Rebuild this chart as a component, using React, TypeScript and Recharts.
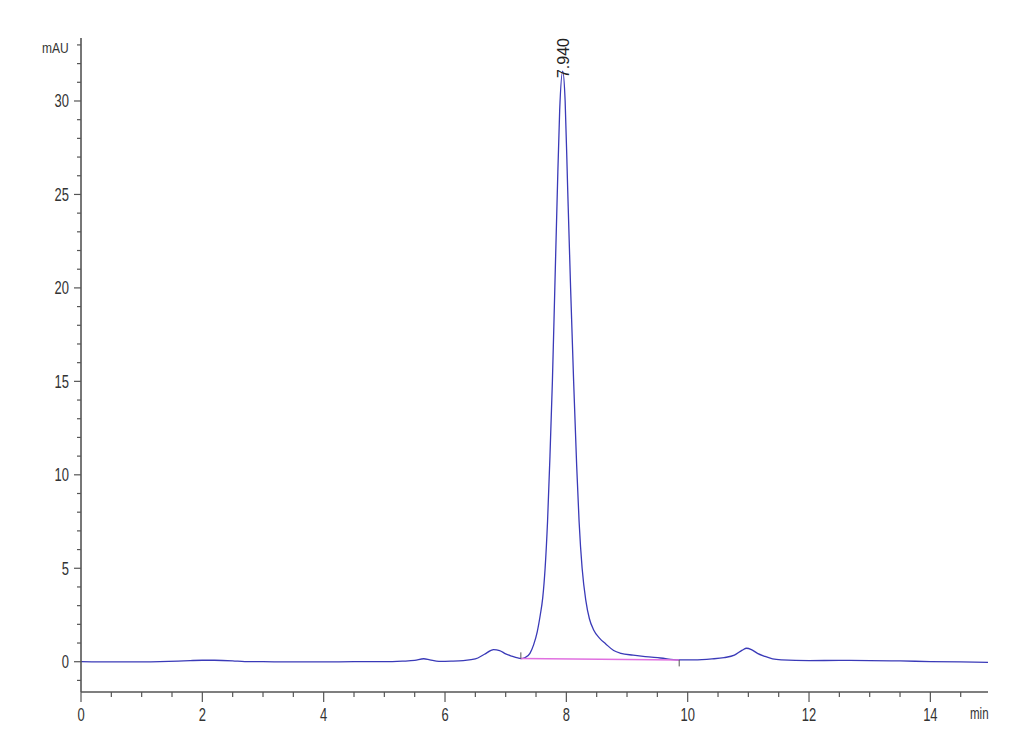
import React from 'react'
import { ComposedChart, Line, XAxis, YAxis, ReferenceLine, ReferenceDot } from 'recharts'

// retention time (min) and absorbance (mAU)
const times = [
  0, 0.5, 1.0, 1.3, 1.6, 1.8, 2.0, 2.2, 2.5, 2.7, 3.0, 3.5, 4.0, 4.5, 5.0, 5.3, 5.5, 5.65, 5.75, 5.9,
  6.1, 6.3, 6.5, 6.65, 6.8, 6.9, 7.0, 7.1, 7.2, 7.25, 7.32, 7.4, 7.46, 7.52, 7.57, 7.61, 7.65, 7.69,
  7.73, 7.77, 7.81, 7.85, 7.89, 7.94, 7.98, 8.02, 8.07, 8.12, 8.17, 8.21, 8.26, 8.32, 8.38, 8.45,
  8.55, 8.65, 8.78, 8.9, 9.1, 9.3, 9.55, 9.85, 10.1, 10.4, 10.6, 10.77, 10.9, 10.97, 11.05, 11.15,
  11.26, 11.4, 11.55, 12.0, 12.5, 13.0, 13.5, 14.0, 14.5, 14.95,
]
const signal = [
  0.0, -0.01, -0.01, 0.0, 0.03, 0.06, 0.08, 0.08, 0.05, 0.01, 0.0, -0.01, -0.01, 0.0, 0.0, 0.03, 0.07, 0.16, 0.1, 0.02,
  0.03, 0.06, 0.15, 0.4, 0.65, 0.6, 0.42, 0.3, 0.2, 0.17, 0.22, 0.45, 0.9, 1.6, 2.5, 3.4, 5.0, 7.5,
  11.0, 15.0, 20.0, 25.0, 29.5, 31.6, 30.0, 25.5, 20.0, 15.0, 10.5, 7.5, 5.0, 3.3, 2.3, 1.7,
  1.25, 0.95, 0.6, 0.45, 0.35, 0.27, 0.2, 0.1, 0.1, 0.15, 0.22, 0.35, 0.62, 0.72, 0.65, 0.45,
  0.3, 0.15, 0.1, 0.06, 0.07, 0.06, 0.04, 0.01, -0.01, -0.03,
]

// integration baseline under the main peak
const baseTimes = [7.25, 9.86]
const baseValues = [0.17, 0.09]

const peakTime = 7.94
const peakHeight = 31.6
const peakLabel = '7.940'

const xTicks = Array.from({ length: 30 }, (_, i) => i * 0.5)
const yTicks = Array.from({ length: 35 }, (_, i) => i - 1)

const trace = times.map((t, i) => ({ t, v: signal[i] }))
const baseline = baseTimes.map((t, i) => ({ t, b: baseValues[i] }))

const axisColor = '#555'
const textColor = '#333'
const font = '"Liberation Sans", Arial, sans-serif'

const YTick = ({ x, y, payload }: any) => {
  const v = payload.value
  const major = v % 5 === 0
  return (
    <g>
      <line x1={x - (major ? 7 : 4)} x2={x} y1={y} y2={y} stroke={axisColor} strokeWidth={1.2} />
      {major && (
        <text
          transform={`translate(${x - 12},${y + 6.5}) scale(0.72,1)`}
          textAnchor="end"
          fontSize={18}
          fontFamily={font}
          fill={textColor}
        >
          {v}
        </text>
      )}
    </g>
  )
}

const XTick = ({ x, y, payload }: any) => {
  const v = payload.value
  const major = v % 2 === 0
  return (
    <g>
      <line x1={x} x2={x} y1={y} y2={y + (major ? 10 : 5)} stroke={axisColor} strokeWidth={1.2} />
      {major && (
        <text
          transform={`translate(${x},${y + 29}) scale(0.72,1)`}
          textAnchor="middle"
          fontSize={18}
          fontFamily={font}
          fill={textColor}
        >
          {v}
        </text>
      )}
    </g>
  )
}

const PeakLabel = ({ viewBox }: any) => {
  const px = viewBox.x + 6
  const py = viewBox.y + 7
  return (
    <text
      x={px}
      y={py}
      transform={`rotate(-90, ${px}, ${py})`}
      fontSize={16}
      fontFamily={font}
      fill="#222"
    >
      {peakLabel}
    </text>
  )
}

export default function App() {
  return (
    <div style={{ position: 'absolute', left: 0, top: 0, width: 1030, height: 755, background: '#fff' }}>
      <ComposedChart width={1030} height={755} margin={{ top: 38, right: 42, bottom: 0, left: 0 }}>
        <XAxis
          type="number"
          dataKey="t"
          domain={[0, 14.95]}
          ticks={xTicks}
          interval={0}
          height={63}
          tickSize={0}
          tickMargin={0}
          tickLine={false}
          tick={<XTick />}
          axisLine={{ stroke: axisColor, strokeWidth: 1.6 }}
          allowDataOverflow
        />
        <YAxis
          type="number"
          domain={[-1.62, 33.37]}
          ticks={yTicks}
          interval={0}
          width={81}
          tickSize={0}
          tickMargin={0}
          tickLine={false}
          tick={<YTick />}
          axisLine={{ stroke: axisColor, strokeWidth: 1.6 }}
          allowDataOverflow
        />
        <Line
          data={trace}
          dataKey="v"
          type="monotone"
          stroke="#3a3ab8"
          strokeWidth={1.3}
          dot={false}
          isAnimationActive={false}
        />
        <Line
          data={baseline}
          dataKey="b"
          type="linear"
          stroke="#e070e0"
          strokeWidth={1.5}
          dot={false}
          isAnimationActive={false}
        />
        <ReferenceLine
          segment={[{ x: baseTimes[0], y: baseValues[0] }, { x: baseTimes[0], y: 0.5 }]}
          stroke="#555"
          strokeWidth={1}
        />
        <ReferenceLine
          segment={[{ x: baseTimes[1], y: baseValues[1] }, { x: baseTimes[1], y: -0.25 }]}
          stroke="#555"
          strokeWidth={1}
        />
        <ReferenceDot x={peakTime} y={peakHeight} r={0} stroke="none" fill="none" label={<PeakLabel />} />
      </ComposedChart>
      <div
        style={{
          position: 'absolute',
          left: 42,
          top: 39,
          fontFamily: font,
          fontSize: 15,
          color: textColor,
          transform: 'scaleX(0.8)',
          transformOrigin: 'left top',
        }}
      >
        mAU
      </div>
      <div
        style={{
          position: 'absolute',
          left: 970,
          top: 705,
          fontFamily: font,
          fontSize: 16,
          color: textColor,
          transform: 'scaleX(0.72)',
          transformOrigin: 'left top',
        }}
      >
        min
      </div>
    </div>
  )
}
